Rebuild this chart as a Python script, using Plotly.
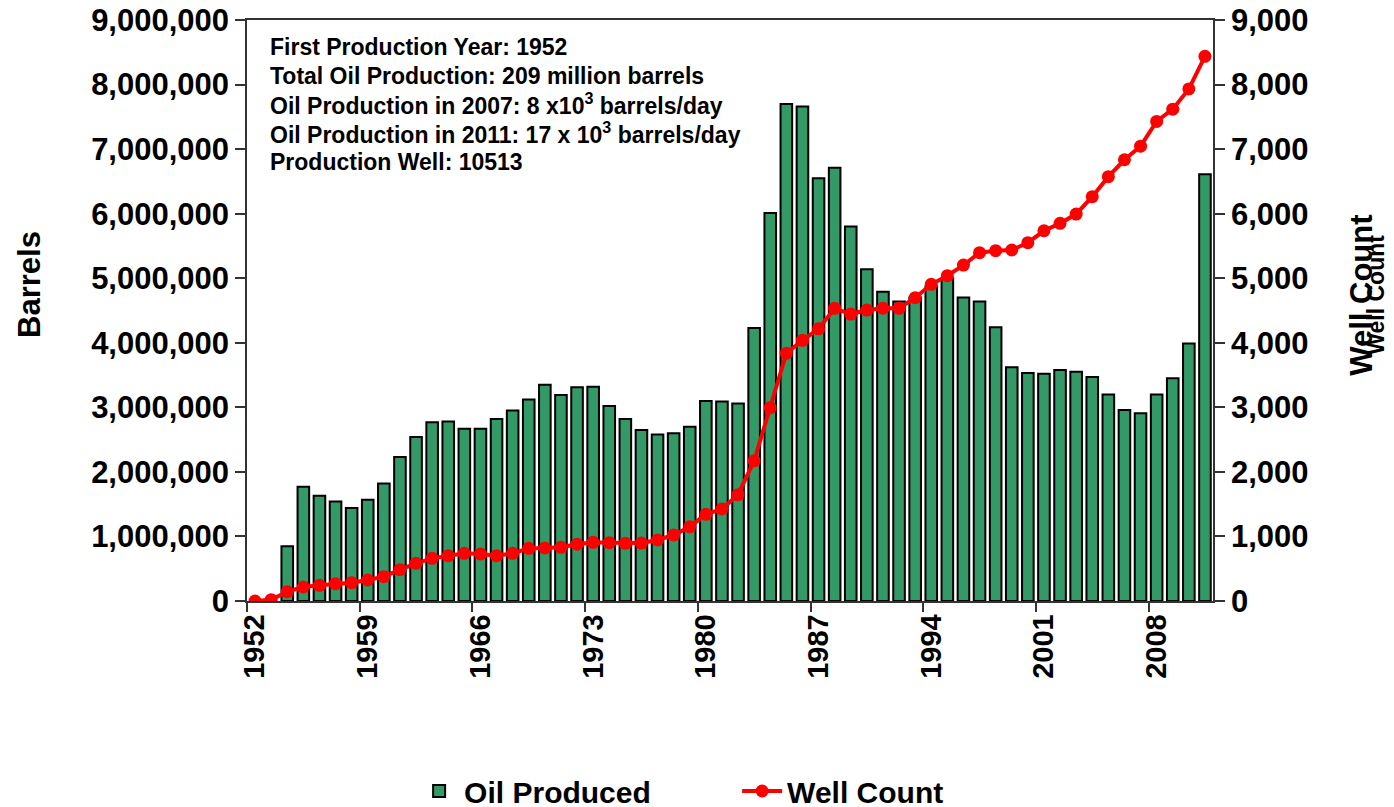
"""Oil production and well count by year, bar + line on two y axes."""
from plotly import graph_objects as go

years = list(range(1952, 2012))

oil_produced = [
    0, 0, 850000, 1770000, 1630000, 1540000, 1440000, 1570000, 1820000, 2230000,
    2540000, 2770000, 2780000, 2670000, 2670000, 2820000, 2950000, 3120000, 3350000, 3190000,
    3310000, 3320000, 3020000, 2820000, 2650000, 2580000, 2600000, 2700000, 3100000, 3090000,
    3060000, 4230000, 6010000, 7700000, 7660000, 6550000, 6710000, 5800000, 5140000, 4790000,
    4640000, 4700000, 4870000, 5000000, 4700000, 4640000, 4240000, 3620000, 3530000, 3520000,
    3580000, 3550000, 3470000, 3200000, 2960000, 2910000, 3200000, 3450000, 3990000, 6610000,
]

well_count = [
    0, 20, 144, 217, 243, 268, 284, 325, 377, 485,
    584, 661, 702, 738, 728, 702, 738, 816, 821, 832,
    880, 909, 903, 893, 898, 945, 1022, 1151, 1343, 1425,
    1647, 2171, 2995, 3837, 4038, 4216, 4533, 4445, 4507, 4535,
    4533, 4698, 4905, 5039, 5204, 5395, 5426, 5437, 5550, 5735,
    5850, 5994, 6263, 6573, 6835, 7045, 7429, 7619, 7932, 8437,
]

tick_years = [1952, 1959, 1966, 1973, 1980, 1987, 1994, 2001, 2008]

notes = [
    "First Production Year: 1952",
    "Total Oil Production: 209 million barrels",
    "Oil Production in 2007: 8 x10<sup>3</sup> barrels/day",
    "Oil Production in 2011: 17 x 10<sup>3</sup> barrels/day",
    "Production Well: 10513",
]

FONT = "Liberation Sans, Arial, sans-serif"
AXIS_COLOR = "#333333"

fig = go.Figure()
fig.add_trace(
    go.Bar(
        x=years,
        y=oil_produced,
        name="Oil Produced",
        marker=dict(color="#339966", line=dict(color="black", width=2)),
    )
)
fig.add_trace(
    go.Scatter(
        x=years,
        y=well_count,
        name="Well Count",
        yaxis="y2",
        mode="lines+markers",
        line=dict(color="#ff0000", width=4),
        marker=dict(color="#ff0000", size=13),
    )
)

# the page body adds an 8px offset, margins are reduced to compensate
fig.update_layout(
    width=1394,
    height=807,
    margin=dict(l=239, r=189, t=12, b=214, autoexpand=False),
    plot_bgcolor="white",
    paper_bgcolor="white",
    font=dict(family=FONT, size=30, color="black", weight="bold"),
    bargap=0.28,
    showlegend=True,
    legend=dict(
        orientation="h",
        x=0.173,
        xanchor="left",
        y=-0.327,
        yanchor="middle",
        entrywidth=268,
        font=dict(size=30, weight="bold"),
        itemwidth=40,
    ),
    xaxis=dict(
        range=[1951.5, 2011.5],
        tickmode="array",
        tickvals=tick_years,
        ticktext=[str(y) for y in tick_years],
        tickangle=-90,
        ticks="",
        showline=True,
        linecolor=AXIS_COLOR,
        linewidth=1.5,
        mirror=True,
        showgrid=False,
        zeroline=False,
        automargin=False,
        ticklabeloverflow="allow",
        tickfont=dict(size=29, weight="bold"),
        minor=dict(
            tickmode="array",
            tickvals=[y - 0.5 for y in tick_years],
            ticks="outside",
            ticklen=9,
            tickwidth=1.5,
            tickcolor=AXIS_COLOR,
            showgrid=False,
        ),
    ),
    yaxis=dict(
        range=[0, 9000000],
        dtick=1000000,
        tickformat=",d",
        ticks="outside",
        ticklen=10,
        tickwidth=1.5,
        tickcolor=AXIS_COLOR,
        showline=True,
        linecolor=AXIS_COLOR,
        linewidth=1.5,
        showgrid=False,
        zeroline=False,
        automargin=False,
        ticklabeloverflow="allow",
        tickfont=dict(size=31, weight="bold"),
    ),
    yaxis2=dict(
        range=[0, 9000],
        dtick=1000,
        tickformat=",d",
        overlaying="y",
        side="right",
        ticks="outside",
        ticklen=10,
        tickwidth=1.5,
        tickcolor=AXIS_COLOR,
        showline=True,
        linecolor=AXIS_COLOR,
        linewidth=1.5,
        showgrid=False,
        zeroline=False,
        automargin=False,
        ticklabeloverflow="allow",
        tickfont=dict(size=31, weight="bold"),
    ),
)

# annotation block in the upper left
for i, line in enumerate(notes):
    fig.add_annotation(
        text=line,
        xref="paper",
        yref="paper",
        x=0.0217,
        y=0.9535 - i * 0.0494,
        xanchor="left",
        yanchor="middle",
        showarrow=False,
        font=dict(size=23, weight="bold"),
    )

# axis titles (the right one is drawn twice, slightly offset, as in the source)
fig.add_annotation(
    text="Barrels",
    xref="paper",
    yref="paper",
    x=-0.2246,
    y=0.544,
    xanchor="center",
    yanchor="middle",
    textangle=-90,
    showarrow=False,
    font=dict(size=31, weight="bold"),
)
fig.add_annotation(
    text="Well Count",
    xref="paper",
    yref="paper",
    x=1.1542,
    y=0.527,
    xanchor="center",
    yanchor="middle",
    textangle=-90,
    showarrow=False,
    font=dict(size=31, weight="bold"),
)
fig.add_annotation(
    text="Well Count",
    xref="paper",
    yref="paper",
    x=1.1687,
    y=0.527,
    xanchor="center",
    yanchor="middle",
    textangle=-90,
    showarrow=False,
    font=dict(size=23, weight="bold"),
)

fig.write_html("out.html")
